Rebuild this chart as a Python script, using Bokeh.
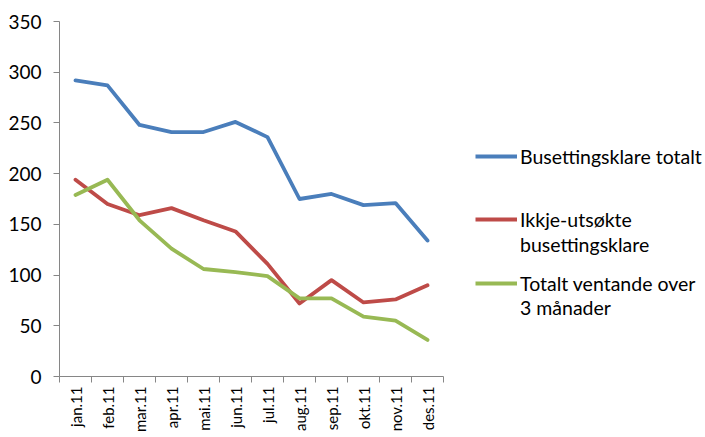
from math import pi
from bokeh.plotting import figure
from bokeh.layouts import row
from bokeh.models import Range1d, FixedTicker, Legend, LegendItem
from bokeh.embed import file_html
from bokeh.resources import INLINE

months = ["jan.11", "feb.11", "mar.11", "apr.11", "mai.11", "jun.11",
          "jul.11", "aug.11", "sep.11", "okt.11", "nov.11", "des.11"]
busettingsklare_totalt = [292, 287, 248, 241, 241, 251, 236, 175, 180, 169, 171, 134]
ikkje_utsokte = [194, 170, 159, 166, 154, 143, 111, 72, 95, 73, 76, 90]
ventande_over_3 = [179, 194, 154, 126, 106, 103, 99, 77, 77, 59, 55, 36]
legend_lines = [["Busettingsklare totalt"],
                ["Ikkje-utsøkte", "busettingsklare"],
                ["Totalt ventande over", "3 månader"]]
y_ticks = [0, 50, 100, 150, 200, 250, 300, 350]

FONT = "Lato"
AXIS_COLOR = "#868686"
colors = ["#4A7EBB", "#BE4B48", "#98B954"]
H = 436

xs = list(range(1, len(months) + 1))

p = figure(width=453, height=H, output_backend="svg", toolbar_location=None,
           x_range=Range1d(0.5, 12.5), y_range=Range1d(0, 350),
           min_border_left=59, min_border_top=21, min_border_right=10,
           min_border_bottom=60)
p.outline_line_color = None
p.xgrid.visible = False
p.ygrid.visible = False

for vals, c in zip([busettingsklare_totalt, ikkje_utsokte, ventande_over_3], colors):
    p.line(xs, vals, line_color=c, line_width=3.8, line_join="round", line_cap="round")

# y axis
p.yaxis.ticker = FixedTicker(ticks=y_ticks)
p.yaxis.axis_line_color = AXIS_COLOR
p.yaxis.major_tick_line_color = AXIS_COLOR
p.yaxis.major_tick_out = 6
p.yaxis.major_tick_in = 0
p.yaxis.minor_tick_line_color = None
p.yaxis.major_label_text_font = FONT
p.yaxis.major_label_text_font_size = "19px"
p.yaxis.major_label_text_color = "#000000"
p.yaxis.major_label_standoff = 12

# x axis
p.xaxis.ticker = FixedTicker(ticks=xs, minor_ticks=[x - 0.5 for x in xs] + [12.5])
p.xaxis.major_label_overrides = {x: m for x, m in zip(xs, months)}
p.xaxis.axis_line_color = AXIS_COLOR
p.xaxis.major_tick_line_color = None
p.xaxis.major_tick_out = 0
p.xaxis.major_tick_in = 0
p.xaxis.minor_tick_line_color = AXIS_COLOR
p.xaxis.minor_tick_out = 6
p.xaxis.minor_tick_in = 0
p.xaxis.major_label_orientation = pi / 2
p.xaxis.major_label_text_font = FONT
p.xaxis.major_label_text_font_size = "15px"
p.xaxis.major_label_text_color = "#000000"
p.xaxis.major_label_standoff = 4

# legend panel
lf = figure(width=250, height=H, output_backend="svg", toolbar_location=None,
            x_range=Range1d(0, 1), y_range=Range1d(0, 1),
            x_axis_location=None, y_axis_location=None,
            min_border=0)
lf.outline_line_color = None
lf.xgrid.visible = False
lf.ygrid.visible = False

# legend swatches: lines whose data lie outside the visible range
swatches = [lf.line([-10, -9], [-10, -9], line_color=c, line_width=3.8) for c in colors]
blank = lf.line([-10, -9], [-10, -9], line_alpha=0)

locations = [(22, 208), (22, 120), (22, 57)]
spacings = [0, 1, 0]
for lines, r, loc, sp in zip(legend_lines, swatches, locations, spacings):
    items = [LegendItem(label=lines[0], renderers=[r])]
    for extra in lines[1:]:
        items.append(LegendItem(label=extra, renderers=[blank]))
    lg = Legend(items=items, location=loc)
    lg.border_line_color = None
    lg.background_fill_alpha = 0
    lg.label_text_font = FONT
    lg.label_text_font_size = "19.5px"
    lg.label_text_color = "#000000"
    lg.glyph_width = 42
    lg.glyph_height = 24
    lg.label_height = 24
    lg.label_standoff = 3
    lg.spacing = sp
    lg.padding = 0
    lg.margin = 0
    lf.add_layout(lg, "center")

layout = row(p, lf)
open("out.html", "w").write(file_html(layout, INLINE))
